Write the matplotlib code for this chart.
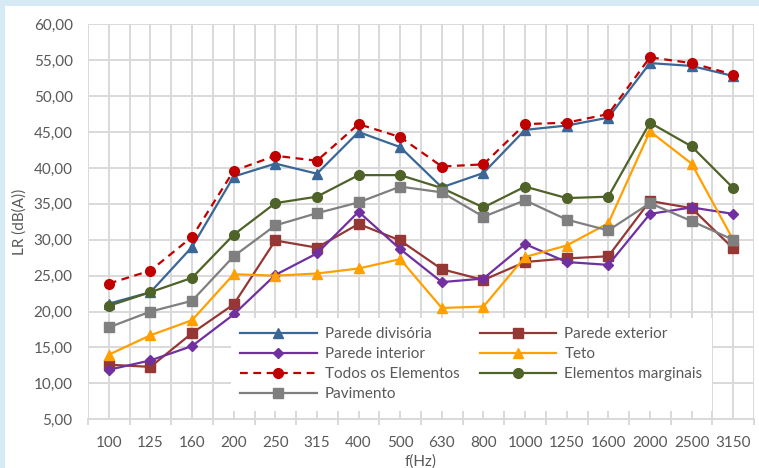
import matplotlib
matplotlib.use("Agg")
import matplotlib.pyplot as plt
from matplotlib.patches import Rectangle
from matplotlib.ticker import FixedLocator, FuncFormatter, NullFormatter
import numpy as np

plt.rcParams['font.family'] = ['Lato', 'DejaVu Sans']

freqs = ['100', '125', '160', '200', '250', '315', '400', '500',
         '630', '800', '1000', '1250', '1600', '2000', '2500', '3150']

parede_divisoria = [21.1, 22.7, 29.0, 38.8, 40.6, 39.2, 45.0, 42.9,
                    37.3, 39.3, 45.3, 45.9, 47.0, 54.6, 54.2, 52.8]
parede_exterior = [12.6, 12.3, 17.0, 21.0, 29.9, 28.9, 32.2, 29.9,
                   25.9, 24.4, 26.9, 27.4, 27.7, 35.4, 34.4, 28.8]
parede_interior = [11.9, 13.2, 15.2, 19.6, 25.1, 28.1, 33.9, 28.7,
                   24.1, 24.6, 29.4, 26.9, 26.5, 33.6, 34.5, 33.6]
teto = [14.0, 16.7, 18.8, 25.2, 25.0, 25.3, 26.0, 27.3,
        20.5, 20.7, 27.6, 29.2, 32.3, 45.1, 40.6, 30.0]
todos = [23.9, 25.7, 30.4, 39.6, 41.7, 41.0, 46.1, 44.3,
         40.2, 40.5, 46.1, 46.3, 47.5, 55.4, 54.6, 53.0]
marginais = [20.8, 22.7, 24.7, 30.7, 35.1, 36.0, 39.0, 39.0,
             37.2, 34.5, 37.4, 35.8, 36.0, 46.3, 43.0, 37.2]
pavimento = [17.8, 20.0, 21.5, 27.7, 32.0, 33.7, 35.2, 37.4,
             36.6, 33.2, 35.5, 32.8, 31.3, 35.1, 32.6, 30.0]

W, H = 759, 468
fig = plt.figure(figsize=(W / 100, H / 100), dpi=100, facecolor='#D6EAF6')
fig.add_artist(Rectangle((5 / W, 0), 1, 1 - 6 / H, transform=fig.transFigure,
                         facecolor='white', edgecolor='none', zorder=-10))

ax = fig.add_axes([88 / W, (H - 419.3) / H, (754 - 88) / W, (419.3 - 24.3) / H])
ax.set_facecolor('white')

x = np.arange(len(freqs))
grey = '#595959'
gridc = '#D9D9D9'
fs = 11

series = [
    ('Parede divisória', parede_divisoria, '#3A6796', '^', '-', 7),
    ('Parede exterior', parede_exterior, '#953735', 's', '-', 7),
    ('Parede interior', parede_interior, '#7030A0', 'D', '-', 5.5),
    ('Teto', teto, '#FFA000', '^', '-', 7),
    ('Todos os Elementos', todos, '#C00000', 'o', (0, (3.5, 2.5)), 7),
    ('Elementos marginais', marginais, '#4F6228', 'o', '-', 7),
    ('Pavimento', pavimento, '#7F7F7F', 's', '-', 7),
]

handles = {}
for i, (name, vals, col, mk, ls, ms) in enumerate(series):
    h, = ax.plot(x, vals, color=col, lw=1.6, ls=ls, marker=mk, markersize=ms,
                 markerfacecolor=col, markeredgecolor=col, label=name, zorder=3 + i)
    handles[name] = h

ax.set_xlim(-0.5, len(freqs) - 0.5)
ax.set_ylim(5, 60)
ax.set_yticks(np.arange(5, 61, 5))
ax.yaxis.set_major_formatter(FuncFormatter(lambda v, p: f'{v:.2f}'.replace('.', ',')))

# tick marks between categories, labels centred on them
ax.xaxis.set_major_locator(FixedLocator(np.arange(-0.5, len(freqs), 1)))
ax.xaxis.set_major_formatter(NullFormatter())
ax.set_xticks(x, freqs, minor=True)

ax.grid(True, which='both', axis='x', color=gridc, lw=1.4, zorder=0)
ax.grid(True, which='major', axis='y', color=gridc, lw=1.4, zorder=0)
ax.set_axisbelow(True)

for s in ['top', 'right', 'left']:
    ax.spines[s].set_visible(False)
ax.spines['bottom'].set_color(gridc)
ax.spines['bottom'].set_linewidth(1.4)

ax.tick_params(axis='y', length=0, pad=11, labelsize=fs, labelcolor=grey)
ax.tick_params(axis='x', which='major', length=4, width=1.4, color=gridc, direction='out')
ax.tick_params(axis='x', which='minor', length=0, pad=12, labelsize=fs, labelcolor=grey)

ax.set_ylabel('LR (dB(A))', color=grey, fontsize=fs, labelpad=5)
ax.set_xlabel('f(Hz)', color=grey, fontsize=fs, labelpad=3)

order = ['Parede divisória', 'Parede interior', 'Todos os Elementos', 'Pavimento',
         'Parede exterior', 'Teto', 'Elementos marginais']
leg = ax.legend([handles[n] for n in order], order, ncol=2,
                loc='upper left', bbox_to_anchor=((231 - 88) / 666, (419.3 - 318) / 395),
                frameon=True, fancybox=False, framealpha=1, edgecolor='none',
                facecolor='white', fontsize=fs, handlelength=5.0, handletextpad=0.55,
                columnspacing=1.3, labelspacing=0.4, borderpad=0.6, borderaxespad=0)
for t in leg.get_texts():
    t.set_color(grey)
leg.set_zorder(20)

fig.savefig('out.png', dpi=100, facecolor=fig.get_facecolor())
